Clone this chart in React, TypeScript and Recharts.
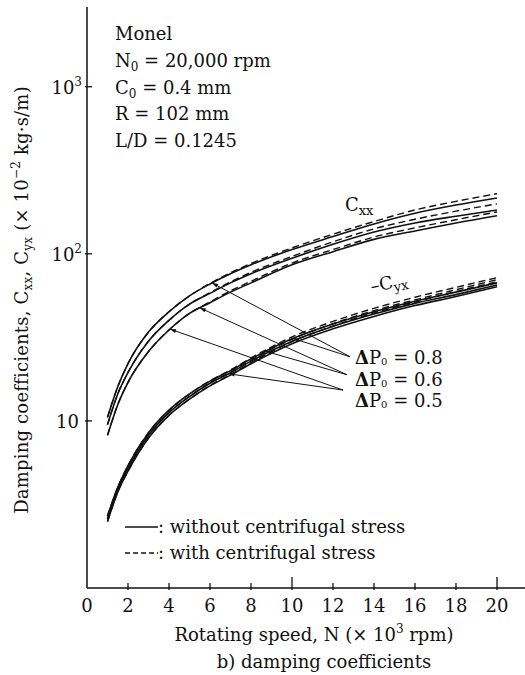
import React from 'react';
import { LineChart, Line, XAxis, YAxis, ReferenceLine } from 'recharts';

const speeds = [1, 1.5, 2, 3, 4, 5, 6, 7, 8, 10, 12, 14, 16, 18, 20];

// C_xx, without centrifugal stress
const cxx08 = [10.5, 16, 22, 34, 45, 56, 66, 76, 86, 106, 127, 151, 175, 196, 216];
const cxx06 = [9.5, 14.5, 19.5, 30, 40, 50, 58, 67, 76, 94, 114, 135, 153, 168, 183];
const cxx05 = [8.2, 12.5, 17, 26, 35, 44, 51, 59, 67, 86, 103, 122, 137, 153, 169];
// C_xx, with centrifugal stress
const cxx08c = [10.5, 16, 22, 34, 45, 56, 66.5, 77, 87.5, 108.5, 131, 156, 183, 206, 229];
const cxx06c = [9.5, 14.5, 19.5, 30, 40, 50, 58.5, 68, 77.5, 96.5, 118, 141, 161, 180, 199];
const cxx05c = [8.2, 12.5, 17, 26, 35, 44, 51.5, 60, 68.5, 88, 106, 126, 143, 160, 178];

// -C_yx, without centrifugal stress
const cyx08 = [2.7, 4.0, 5.4, 8.5, 11.6, 14.5, 17.3, 20, 23.5, 31, 38, 45, 52, 59, 67];
const cyx06 = [2.6, 3.9, 5.2, 8.2, 11.2, 14, 16.8, 19.4, 22.8, 30, 36.8, 43.6, 50.5, 57, 65];
const cyx05 = [2.5, 3.75, 5.0, 7.9, 10.8, 13.5, 16.2, 18.8, 22, 29, 35.6, 42.2, 49, 55.5, 63.5];
// -C_yx, with centrifugal stress
const cyx08c = [2.7, 4.0, 5.4, 8.5, 11.6, 14.5, 17.4, 20.2, 23.8, 31.8, 39.4, 47.2, 55, 63, 72];
const cyx06c = [2.6, 3.9, 5.2, 8.2, 11.2, 14, 16.9, 19.6, 23.1, 30.8, 38.2, 45.7, 53, 61, 70];
const cyx05c = [2.5, 3.75, 5.0, 7.9, 10.8, 13.5, 16.3, 19, 22.3, 29.8, 37, 44.3, 51.5, 59.5, 68];

const xTicks = [0, 2, 4, 6, 8, 10, 12, 14, 16, 18, 20];
const yTicks = [10, 100, 1000];

const seriesMap: Record<string, number[]> = {
  cxx08, cxx06, cxx05, cxx08c, cxx06c, cxx05c,
  cyx08, cyx06, cyx05, cyx08c, cyx06c, cyx05c,
};

const data = speeds.map((n, i) => {
  const row: Record<string, number> = { n };
  Object.keys(seriesMap).forEach((k) => {
    row[k] = seriesMap[k][i];
  });
  return row;
});

// arrows from the ΔP0 labels to the curves
const arrows = [
  { from: { x: 12.83, y: 24.2 }, key: 'cxx08', at: 6.1 },
  { from: { x: 12.83, y: 24.2 }, key: 'cyx08', at: 10.05 },
  { from: { x: 12.68, y: 18.9 }, key: 'cxx05', at: 5.5 },
  { from: { x: 12.68, y: 18.9 }, key: 'cyx08', at: 8.7 },
  { from: { x: 12.49, y: 15.3 }, key: 'cxx05', at: 4.05 },
  { from: { x: 12.49, y: 15.3 }, key: 'cyx06', at: 6.9 },
];

const valueAt = (key: string, x: number) => {
  const vals = seriesMap[key];
  for (let i = 0; i < speeds.length - 1; i++) {
    if (x >= speeds[i] && x <= speeds[i + 1]) {
      const t = (x - speeds[i]) / (speeds[i + 1] - speeds[i]);
      return vals[i] + t * (vals[i + 1] - vals[i]);
    }
  }
  return vals[vals.length - 1];
};

const FONT = '"DejaVu Serif", "Liberation Serif", serif';
const INK = '#111';

const ArrowShape = (props: any) => {
  const { x1, y1, x2, y2 } = props;
  const ang = Math.atan2(y2 - y1, x2 - x1);
  const len = 6;
  const w = 2;
  const bx = x2 - len * Math.cos(ang);
  const by = y2 - len * Math.sin(ang);
  const px = -Math.sin(ang) * w;
  const py = Math.cos(ang) * w;
  return (
    <g>
      <line x1={x1} y1={y1} x2={x2} y2={y2} stroke={INK} strokeWidth={1} />
      <polygon
        points={`${x2},${y2} ${bx + px},${by + py} ${bx - px},${by - py}`}
        fill={INK}
      />
    </g>
  );
};

const XTick = (props: any) => {
  const { x, y, payload } = props;
  const major = payload.value === 10 || payload.value === 20;
  return (
    <g>
      {payload.value !== 0 && (
        <line x1={x} y1={y} x2={x} y2={y - (major ? 13 : 7)} stroke={INK} strokeWidth={1.3} />
      )}
      <text x={x} y={y + 22} textAnchor="middle" fontFamily={FONT} fontSize={18} fill={INK}>
        {payload.value}
      </text>
    </g>
  );
};

const YTick = (props: any) => {
  const { x, y, payload } = props;
  const v = payload.value;
  return (
    <g>
      <line x1={x} y1={y} x2={x + 7} y2={y} stroke={INK} strokeWidth={1.3} />
      {v === 10 ? (
        <text x={x - 6} y={y + 7} textAnchor="end" fontFamily={FONT} fontSize={18} fill={INK}>
          10
        </text>
      ) : (
        <text x={x - 3} y={y + 7} textAnchor="end" fontFamily={FONT} fontSize={18} fill={INK}>
          10
          <tspan fontSize={12} dy={-8}>
            {v === 100 ? '2' : '3'}
          </tspan>
        </text>
      )}
    </g>
  );
};

const solid = ['cxx08', 'cxx06', 'cxx05', 'cyx08', 'cyx06', 'cyx05'];
const dashed = ['cxx08c', 'cxx06c', 'cxx05c', 'cyx08c', 'cyx06c', 'cyx05c'];

export default function App() {
  return (
    <div
      style={{
        position: 'absolute',
        left: 0,
        top: 0,
        width: 525,
        height: 675,
        overflow: 'hidden',
        background: '#fff',
      }}
    >
      <LineChart
        width={538}
        height={675}
        data={data}
        margin={{ top: 7, right: 0, bottom: 0, left: 0 }}
      >
        <XAxis
          dataKey="n"
          type="number"
          domain={[0, 22]}
          ticks={xTicks}
          allowDataOverflow
          height={87}
          tickSize={0}
          tickLine={false}
          tick={<XTick />}
          axisLine={{ stroke: INK, strokeWidth: 1.5 }}
        />
        <XAxis
          xAxisId="top"
          orientation="top"
          dataKey="n"
          type="number"
          domain={[0, 22]}
          height={0}
          tick={false}
          tickLine={false}
          axisLine={{ stroke: INK, strokeWidth: 1.3 }}
        />
        <YAxis
          scale="log"
          type="number"
          domain={[1, 3000]}
          ticks={yTicks}
          allowDataOverflow
          width={87}
          tickSize={0}
          tickLine={false}
          tick={<YTick />}
          axisLine={{ stroke: INK, strokeWidth: 1.5 }}
        />
        {solid.map((k) => (
          <Line
            key={k}
            dataKey={k}
            type="monotone"
            stroke={INK}
            strokeWidth={1.6}
            dot={false}
            isAnimationActive={false}
          />
        ))}
        {dashed.map((k) => (
          <Line
            key={k}
            dataKey={k}
            type="monotone"
            stroke={INK}
            strokeWidth={1.4}
            strokeDasharray="7 4"
            dot={false}
            isAnimationActive={false}
          />
        ))}
        {arrows.map((a, i) => (
          <ReferenceLine
            key={i}
            segment={[a.from, { x: a.at, y: valueAt(a.key, a.at) }]}
            shape={<ArrowShape />}
          />
        ))}

        <g fontFamily={FONT} fill={INK} fontSize={18}>
          <text x={115} y={40}>Monel</text>
          <text x={115} y={67}>
            N<tspan fontSize={12} dy={4}>0</tspan>
            <tspan dy={-4}> = 20,000 rpm</tspan>
          </text>
          <text x={115} y={94}>
            C<tspan fontSize={12} dy={4}>0</tspan>
            <tspan dy={-4}> = 0.4 mm</tspan>
          </text>
          <text x={115} y={120}>R = 102 mm</text>
          <text x={115} y={147}>L/D = 0.1245</text>

          <text x={345} y={211}>
            C<tspan fontSize={13} dy={4}>xx</tspan>
          </text>
          <text x={370} y={289} transform="rotate(-12 388 283)">
            –C<tspan fontSize={13} dy={4}>yx</tspan>
          </text>

          {['0.8', '0.6', '0.5'].map((v, i) => (
            <text key={v} x={355} y={364 + i * 21.5}>
              <tspan fontWeight="bold">Δ</tspan>P
              <tspan fontSize={10} dy={1}>0</tspan>
              <tspan dy={-1}> = {v}</tspan>
            </text>
          ))}

          <line x1={125} y1={527} x2={158} y2={527} stroke={INK} strokeWidth={1.3} />
          <text x={158} y={533}>: without centrifugal stress</text>
          <line x1={125} y1={553} x2={158} y2={553} stroke={INK} strokeWidth={1.3} strokeDasharray="5 3" />
          <text x={158} y={559}>: with centrifugal stress</text>

          <text x={314} y={641} textAnchor="middle">
            Rotating speed, N (×  10<tspan fontSize={12} dy={-8}>3</tspan>
            <tspan dy={8}> rpm)</tspan>
          </text>
          <text x={324} y={668} textAnchor="middle">
            b)  damping coefficients
          </text>

          <text
            x={28}
            y={300}
            textAnchor="middle"
            letterSpacing={0.2}
            transform="rotate(-90 28 300)"
          >
            Damping  coefficients, C<tspan fontSize={12} dy={4}>xx</tspan>
            <tspan dy={-4}>, C</tspan>
            <tspan fontSize={12} dy={4}>yx</tspan>
            <tspan dy={-4}> (× 10</tspan>
            <tspan fontSize={12} dy={-8}>−2</tspan>
            <tspan dy={8}> kg·s/m)</tspan>
          </text>
        </g>
      </LineChart>
    </div>
  );
}
